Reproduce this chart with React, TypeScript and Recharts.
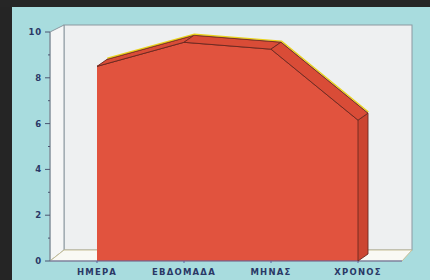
import React from "react";
import { AreaChart, Area, XAxis, YAxis } from "recharts";

const categories = ["ΗΜΕΡΑ", "ΕΒΔΟΜΑΔΑ", "ΜΗΝΑΣ", "ΧΡΟΝΟΣ"];
const values = [8.5, 9.55, 9.25, 6.15];
const yTicks = [0, 1, 2, 3, 4, 5, 6, 7, 8, 9, 10];
const yLabels = [0, 2, 4, 6, 8, 10];

const data = categories.map((name, i) => ({ name, score: values[i] }));

const W = 430;
const H = 280;
const TEAL = "#a8dcde";
const NAVY = "#2a3866";
const FONT = "'DejaVu Sans', sans-serif";

// depth of the red solid (pixels, right and up)
const DEPTH_X = 10;
const DEPTH_Y = -7;

// points collected while the dots render, used to draw the 3d solid
const pts: { x: number; y: number; v: number }[] = [];

function SolidDot(props: any) {
  const { cx, cy, index, payload } = props;
  if (index === 0) pts.length = 0;
  pts[index] = { x: cx, y: cy, v: payload.score };
  if (index !== data.length - 1) return <g key={`d${index}`} />;

  // baseline y, found from two points of the series
  const a = pts[0];
  const b = pts[pts.length - 1];
  const slope = (a.y - b.y) / (a.v - b.v);
  const y0 = a.y - slope * a.v;

  const back = pts.map((p) => ({ x: p.x + DEPTH_X, y: p.y + DEPTH_Y }));
  const quads = pts.slice(0, -1).map((p, i) => {
    const q = pts[i + 1];
    return `${p.x},${p.y} ${q.x},${q.y} ${back[i + 1].x},${back[i + 1].y} ${back[i].x},${back[i].y}`;
  });
  const last = pts[pts.length - 1];
  const lb = back[back.length - 1];
  const side = `${last.x},${last.y} ${last.x},${y0} ${last.x + DEPTH_X},${y0 + DEPTH_Y} ${lb.x},${lb.y}`;
  const backLine = back.map((p) => `${p.x},${p.y}`).join(" ");
  const glow = back.map((p) => `${p.x + 0.4},${p.y - 1.1}`).join(" ");

  return (
    <g key="solid">
      <polygon points={side} fill="#cc4531" stroke="#6b2820" strokeWidth={0.9} strokeLinejoin="round" />
      {quads.map((q, i) => (
        <polygon key={i} points={q} fill="#d94c37" stroke="#6b2820" strokeWidth={0.9} strokeLinejoin="round" />
      ))}
      <polyline points={glow} fill="none" stroke="#e9d21c" strokeWidth={1.4} strokeLinejoin="round" />
      <polyline points={backLine} fill="none" stroke="#7a3020" strokeWidth={0.7} />
    </g>
  );
}

function YTick(props: any) {
  const { x, y, payload } = props;
  const major = yLabels.includes(payload.value);
  return (
    <g>
      <line x1={major ? x + 3 : x + 6} x2={x + 8} y1={y} y2={y} stroke="#4a5470" strokeWidth={1} />
      {major && (
        <text
          x={x}
          y={y}
          dy="0.35em"
          textAnchor="end"
          fill={NAVY}
          fontSize={8.5}
          fontWeight="bold"
          fontFamily={FONT}
          letterSpacing={0.8}
        >
          {payload.value}
        </text>
      )}
    </g>
  );
}

function Panel() {
  return (
    <svg width={W} height={H} style={{ position: "absolute", left: 0, top: 0 }}>
      <rect x={0} y={0} width={W} height={H} fill={TEAL} />
      <rect x={0} y={0} width={12} height={H} fill="#252525" />
      <rect x={0} y={0} width={W} height={7} fill="#262626" />
      {/* back wall */}
      <rect x={64} y={25} width={348} height={225} fill="#eef0f1" stroke="#8b98a0" strokeWidth={1} />
      {/* left wall */}
      <polygon points="50,32 64,25 64,250 50,261" fill="#f5f6f6" stroke="#8b98a0" strokeWidth={1} />
      {/* floor */}
      <polygon points="50,261 64,250 412,250 402,261" fill="#f9f9f4" stroke="#c8bf96" strokeWidth={1} />
    </svg>
  );
}

export default function App() {
  return (
    <div style={{ position: "fixed", left: 0, top: 0, width: W, height: H, overflow: "hidden" }}>
      <Panel />
      <div style={{ position: "absolute", left: 0, top: 0 }}>
        <AreaChart width={W} height={H} data={data} margin={{ top: 32, right: 28, left: 0, bottom: 0 }}>
          <XAxis
            dataKey="name"
            height={19}
            padding={{ left: 47, right: 44 }}
            interval={0}
            axisLine={{ stroke: "#5a62a0", strokeWidth: 1.2 }}
            tickLine={{ stroke: "#5a62a0" }}
            tickSize={2}
            tickMargin={6}
            tick={{ fill: NAVY, fontSize: 8.5, fontWeight: "bold", fontFamily: FONT, letterSpacing: 1.2 }}
          />
          <YAxis
            domain={[0, 10]}
            ticks={yTicks}
            interval={0}
            width={50}
            tickSize={5}
            tickMargin={3}
            tickLine={false}
            axisLine={{ stroke: "#7f8c98" }}
            tick={<YTick />}
          />
          <Area
            type="linear"
            dataKey="score"
            fill="#e1533e"
            fillOpacity={1}
            stroke="#6b2820"
            strokeWidth={1}
            dot={SolidDot}
            activeDot={false}
            isAnimationActive={false}
          />
        </AreaChart>
      </div>
    </div>
  );
}
